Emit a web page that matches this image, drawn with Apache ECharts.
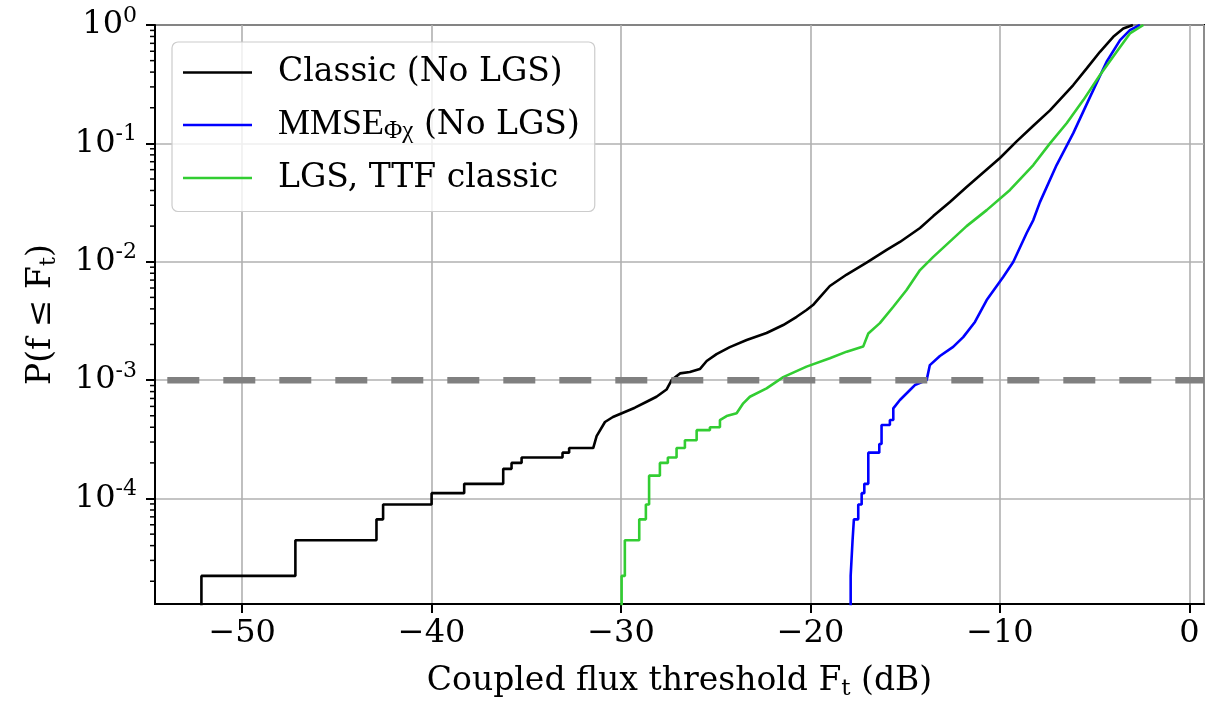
<!DOCTYPE html>
<html><head><meta charset="utf-8">
<script src="https://cdn.jsdelivr.net/npm/echarts@6/dist/echarts.min.js"></script>
<style>html,body{margin:0;padding:0;background:#fff}#c{width:1230px;height:707px}</style>
</head><body><div id="c"></div>
<script>
// ---- data ----
const seriesNames = ['Classic (No LGS)', 'MMSE_Φχ (No LGS)', 'LGS, TTF classic'];
const xRange = [-54.6, 0.77];
const yRange = [1.285e-5, 1];
const threshold = 1e-3;

const classicX = [-52.15,-52.15,-47.19,-47.19,-42.91,-42.91,-42.56,-42.56,-40.0,-40.0,-38.28,-38.28,-36.22,-36.22,-35.78,-35.78,-35.25,-35.25,-33.09,-33.09,-32.74,-32.74,-31.47,
  -31.29,-30.85,-30.43,-29.96,-29.27,-28.65,-28.13,-27.60,-27.33,-26.89,-26.37,-25.84,-25.48,-24.96,-24.26,-23.37,-22.32,-21.44,-20.73,-20.21,-19.87,-19.50,-18.98,-18.09,-17.04,-15.98,-15.28,-14.22,-13.52,-12.64,-11.76,-10.00,-9.12,-8.24,-7.36,-6.13,-5.42,-4.72,-4.02,-3.49,-2.98];
const classicY = [1e-5,2.22e-5,2.22e-5,4.44e-5,4.44e-5,6.67e-5,6.67e-5,8.89e-5,8.89e-5,1.11e-4,1.11e-4,1.33e-4,1.33e-4,1.78e-4,1.78e-4,2.0e-4,2.0e-4,2.22e-4,2.22e-4,2.44e-4,2.44e-4,2.67e-4,2.67e-4,
  3.37e-4,4.43e-4,4.88e-4,5.25e-4,5.85e-4,6.57e-4,7.24e-4,8.33e-4,1.0e-3,1.14e-3,1.17e-3,1.24e-3,1.45e-3,1.66e-3,1.90e-3,2.18e-3,2.50e-3,2.92e-3,3.43e-3,3.91e-3,4.31e-3,5.03e-3,6.24e-3,7.80e-3,9.84e-3,1.26e-2,1.47e-2,1.93e-2,2.43e-2,3.20e-2,4.28e-2,7.52e-2,0.104,0.141,0.190,0.311,0.430,0.594,0.795,0.936,1.0];

const mmseX = [-17.88,-17.88,-17.78,-17.78,-17.71,-17.71,-17.48,-17.48,-17.30,-17.30,-17.16,-17.16,-16.95,-16.95,-16.37,-16.37,-16.25,-16.25,-15.81,-15.81,-15.63,-15.63,
  -15.28,-14.75,-14.49,-13.87,-13.70,-13.17,-12.47,-11.94,-11.32,-10.70,-9.83,-9.30,-8.59,-8.24,-7.89,-7.01,-6.13,-5.25,-4.37,-3.66,-3.14,-2.61];
const mmseY = [1e-5,2.22e-5,2.22e-5,4.44e-5,4.44e-5,6.67e-5,6.67e-5,8.89e-5,8.89e-5,1.11e-4,1.11e-4,1.33e-4,1.33e-4,2.44e-4,2.44e-4,2.89e-4,2.89e-4,4.18e-4,4.18e-4,4.6e-4,4.6e-4,5.78e-4,
  6.79e-4,8.25e-4,9.09e-4,1.00e-3,1.34e-3,1.60e-3,1.91e-3,2.31e-3,3.10e-3,4.75e-3,7.44e-3,9.94e-3,1.75e-2,2.25e-2,3.19e-2,6.56e-2,0.122,0.246,0.489,0.745,0.906,1.0];

const lgsX = [-29.97,-29.97,-29.80,-29.80,-29.04,-29.04,-28.69,-28.69,-28.52,-28.52,-27.95,-27.95,-27.53,-27.53,-27.07,-27.07,-26.63,-26.63,-26.01,-26.01,-25.31,-25.31,-24.78,-24.78,
  -24.43,-23.90,-23.55,-23.20,-22.32,-21.44,-20.21,-18.98,-18.09,-17.22,-16.95,-16.34,-15.63,-14.93,-14.22,-13.52,-11.76,-10.70,-9.47,-8.24,-7.36,-6.48,-5.60,-4.72,-3.84,-3.14,-2.43];
const lgsY = [1e-5,2.22e-5,2.22e-5,4.44e-5,4.44e-5,6.67e-5,6.67e-5,8.89e-5,8.89e-5,1.56e-4,1.56e-4,2.0e-4,2.0e-4,2.22e-4,2.22e-4,2.67e-4,2.67e-4,3.11e-4,3.11e-4,3.78e-4,3.78e-4,4.0e-4,4.0e-4,4.6e-4,
  4.97e-4,5.25e-4,6.37e-4,7.24e-4,8.53e-4,1.06e-3,1.30e-3,1.53e-3,1.74e-3,1.92e-3,2.48e-3,3.03e-3,4.17e-3,5.77e-3,8.51e-3,1.10e-2,2.00e-2,2.73e-2,4.04e-2,6.56e-2,0.100,0.148,0.232,0.378,0.594,0.849,1.0];

const minorTickValues = [2e-5,3e-5,4e-5,5e-5,6e-5,7e-5,8e-5,9e-5,
  2e-4,3e-4,4e-4,5e-4,6e-4,7e-4,8e-4,9e-4,
  2e-3,3e-3,4e-3,5e-3,6e-3,7e-3,8e-3,9e-3,
  2e-2,3e-2,4e-2,5e-2,6e-2,7e-2,8e-2,9e-2,
  0.2,0.3,0.4,0.5,0.6,0.7,0.8,0.9];

// ---- build ----
const FONT = 'DejaVu Serif';
const zip = (xs, ys) => xs.map((x, i) => [x, ys[i]]);

const chart = echarts.init(document.getElementById('c'), null, {renderer: 'canvas'});
const lineSeries = (name, xs, ys, color) => ({
  name, type: 'line', data: zip(xs, ys), showSymbol: false, symbol: 'none',
  clip: true, animation: false, z: 3,
  lineStyle: {color, width: 2.6}, itemStyle: {color}
});

const option = {
  animation: false,
  backgroundColor: '#ffffff',
  grid: {left: 155, right: 26, top: 25, bottom: 103, show: true, borderColor: '#000', borderWidth: 2,
         containLabel: false, outerBoundsMode: 'none'},
  legend: {
    orient: 'vertical', left: 172, top: 42,
    padding: [14, 15, 17, 11],
    itemWidth: 69, itemHeight: 2.6, itemGap: 18, icon: 'rect',
    backgroundColor: 'rgba(255,255,255,0.8)', borderColor: '#cccccc', borderWidth: 1.2, borderRadius: 6,
    data: seriesNames,
    formatter: function (name) {
      if (name.indexOf('MMSE') === 0) return '{m|MMSE}{ms|Φχ}{n| (No LGS)}';
      return '{n|' + name + '}';
    },
    textStyle: {
      fontFamily: FONT, fontSize: 33, color: '#000', padding: [0, 0, 0, 21],
      rich: {
        n: {fontFamily: FONT, fontSize: 33, lineHeight: 37, color: '#000'},
        m: {fontFamily: 'Liberation Serif', fontSize: 36, lineHeight: 37, color: '#000'},
        ms: {fontFamily: 'Liberation Serif', fontSize: 25, lineHeight: 28, verticalAlign: 'bottom', color: '#000'}
      }
    }
  },
  xAxis: {
    type: 'value', min: xRange[0], max: xRange[1], splitNumber: 5,
    name: 'Coupled flux threshold F{sub|t} (dB)', nameLocation: 'middle', nameGap: 57,
    nameTextStyle: {fontFamily: FONT, fontSize: 33, color: '#000', lineHeight: 40,
      rich: {sub: {fontFamily: FONT, fontSize: 23, lineHeight: 24, verticalAlign: 'bottom', color: '#000'}}},
    axisLine: {show: true, onZero: false, lineStyle: {color: '#000', width: 2}},
    axisTick: {show: true, length: 9, lineStyle: {color: '#000', width: 2}},
    axisLabel: {show: true, margin: 14, fontFamily: FONT, fontSize: 32, color: '#000',
      showMinLabel: false, showMaxLabel: false,
      formatter: v => (v < 0 ? '\u2212' + Math.abs(v) : String(v))},
    splitLine: {show: true, lineStyle: {color: '#b0b0b0', width: 1.6}}
  },
  yAxis: {
    type: 'log', logBase: 10, min: yRange[0], max: yRange[1],
    name: 'P(f \u2264 F{sub|t})', nameLocation: 'middle', nameGap: 94, nameRotate: 90,
    nameTextStyle: {fontFamily: FONT, fontSize: 33, color: '#000', lineHeight: 40,
      rich: {sub: {fontFamily: FONT, fontSize: 23, lineHeight: 24, verticalAlign: 'bottom', color: '#000'}}},
    axisLine: {show: true, onZero: false, lineStyle: {color: '#000', width: 2}},
    axisTick: {show: true, length: 9, lineStyle: {color: '#000', width: 2}},
    axisLabel: {show: true, margin: 18, showMinLabel: false,
      formatter: function (v) {
        const e = Math.round(Math.log10(v));
        return '{b|10}{s|' + (e < 0 ? '-' + (-e) : e) + '}';
      },
      rich: {
        b: {fontFamily: FONT, fontSize: 32, lineHeight: 40, color: '#000'},
        s: {fontFamily: FONT, fontSize: 22, lineHeight: 22, verticalAlign: 'top', color: '#000'}
      }},
    splitLine: {show: true, lineStyle: {color: '#b0b0b0', width: 1.6}}
  },
  series: [
    lineSeries(seriesNames[0], classicX, classicY, '#000000'),
    lineSeries(seriesNames[1], mmseX, mmseY, '#0000ff'),
    lineSeries(seriesNames[2], lgsX, lgsY, '#32cd32'),
    {
      name: 'threshold', type: 'line', showSymbol: false, symbol: 'none', clip: true, silent: true,
      animation: false, z: 6,
      data: [[xRange[0], threshold], [xRange[1], threshold]],
      lineStyle: {color: '#808080', width: 6.5, type: [32, 24], dashOffset: 43.7, cap: 'butt'}
    },
    {
      type: 'custom', name: 'minorTicks', silent: true, clip: false, z: 4, animation: false,
      data: minorTickValues.map(v => [xRange[0], v]),
      renderItem: function (params, api) {
        const p = api.coord([api.value(0), api.value(1)]);
        return {type: 'line', shape: {x1: p[0] - 5, y1: p[1], x2: p[0], y2: p[1]},
                style: {stroke: '#000', lineWidth: 1.5}};
      }
    }
  ]
};
chart.setOption(option);
</script>
</body></html>
